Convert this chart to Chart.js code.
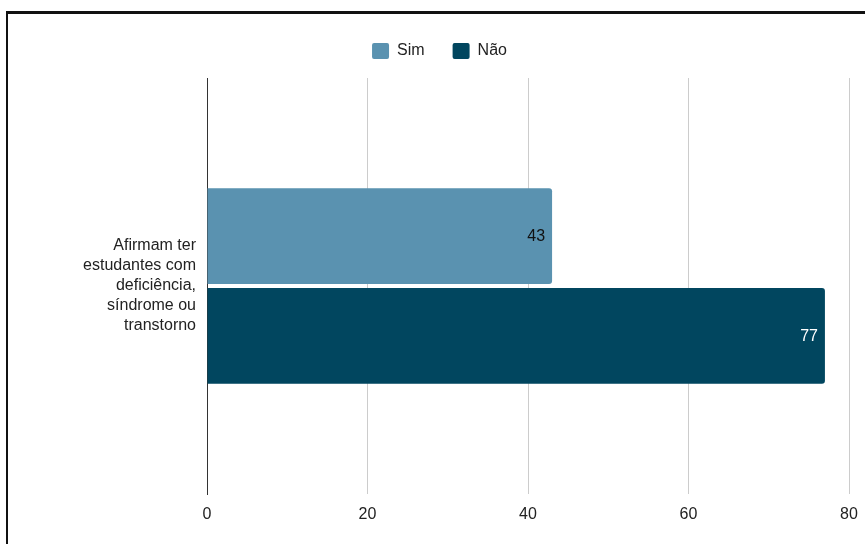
<!DOCTYPE html>
<html>
<head>
<meta charset="utf-8">
<script src="https://cdn.jsdelivr.net/npm/chart.js@4.4.1/dist/chart.umd.min.js"></script>
<style>
  html, body { margin: 0; padding: 0; background: #fff; }
  #wrap { position: absolute; left: 0; top: 0; width: 865px; height: 544px; }
  #frame { position: absolute; left: 6px; top: 11px; width: 900px; height: 600px;
           border-top: 3px solid #111; border-left: 2px solid #111; pointer-events: none; }
</style>
</head>
<body>
<div id="wrap"><canvas id="c" width="865" height="544"></canvas></div>
<div id="frame"></div>
<script>
const categories = [["Afirmam ter", "estudantes com", "deficiência,", "síndrome ou", "transtorno"]];
const seriesNames = ["Sim", "Não"];
const simValues = [43];
const naoValues = [77];
const xTicks = [0, 20, 40, 60, 80];

const FONT = "'Liberation Sans', Arial, sans-serif";
const PAD_L = 30;

const valueLabels = {
  id: 'valueLabels',
  afterDatasetsDraw(chart) {
    const ctx = chart.ctx;
    ctx.save();
    ctx.font = "16px " + FONT;
    ctx.textAlign = 'right';
    ctx.textBaseline = 'middle';
    chart.data.datasets.forEach((ds, i) => {
      const meta = chart.getDatasetMeta(i);
      meta.data.forEach((el, j) => {
        ctx.fillStyle = ds.labelColor;
        ctx.fillText(String(ds.data[j]), el.x - 7, el.y + 1);
      });
    });
    ctx.restore();
  }
};

new Chart(document.getElementById('c'), {
  type: 'bar',
  data: {
    labels: categories,
    datasets: [
      { label: seriesNames[0], data: simValues, backgroundColor: '#5a92b0', labelColor: '#111', borderRadius: 3, borderSkipped: 'start' },
      { label: seriesNames[1], data: naoValues, backgroundColor: '#01465f', labelColor: '#fff', borderRadius: 3, borderSkipped: 'start' }
    ]
  },
  options: {
    indexAxis: 'y',
    responsive: false,
    animation: false,
    devicePixelRatio: 1,
    categoryPercentage: 0.48,
    barPercentage: 0.96,
    layout: { padding: { left: PAD_L, right: 16, top: 15, bottom: 0 } },
    plugins: {
      legend: {
        position: 'top',
        weight: 3000,
        labels: {
          boxWidth: 17, boxHeight: 16, padding: 28,
          useBorderRadius: true, borderRadius: 2,
          color: '#222', font: { family: FONT, size: 16 }
        }
      },
      title: {
        display: true,
        text: '',
        weight: 500,
        font: { size: 1, lineHeight: 1 },
        padding: { top: 0, bottom: 8 }
      },
      tooltip: { enabled: false }
    },
    scales: {
      x: {
        min: 0, max: 80,
        afterBuildTicks: s => { s.ticks = xTicks.map(v => ({ value: v })); },
        afterFit: s => { s.height = 50; s.paddingRight = 0; s.paddingLeft = 0; },
        grid: { color: '#cccccc', drawTicks: false, lineWidth: 1 },
        border: { display: false },
        ticks: { padding: 11, color: '#222', font: { family: FONT, size: 16 } }
      },
      y: {
        afterFit: s => { s.width = 207 - PAD_L; s.paddingTop = 0; s.paddingBottom = 0; },
        grid: { display: false },
        border: { display: true, color: '#333', width: 1 },
        ticks: { padding: 3, color: '#222', font: { family: FONT, size: 16, lineHeight: 1.25 } }
      }
    }
  },
  plugins: [valueLabels]
});
</script>
</body>
</html>
